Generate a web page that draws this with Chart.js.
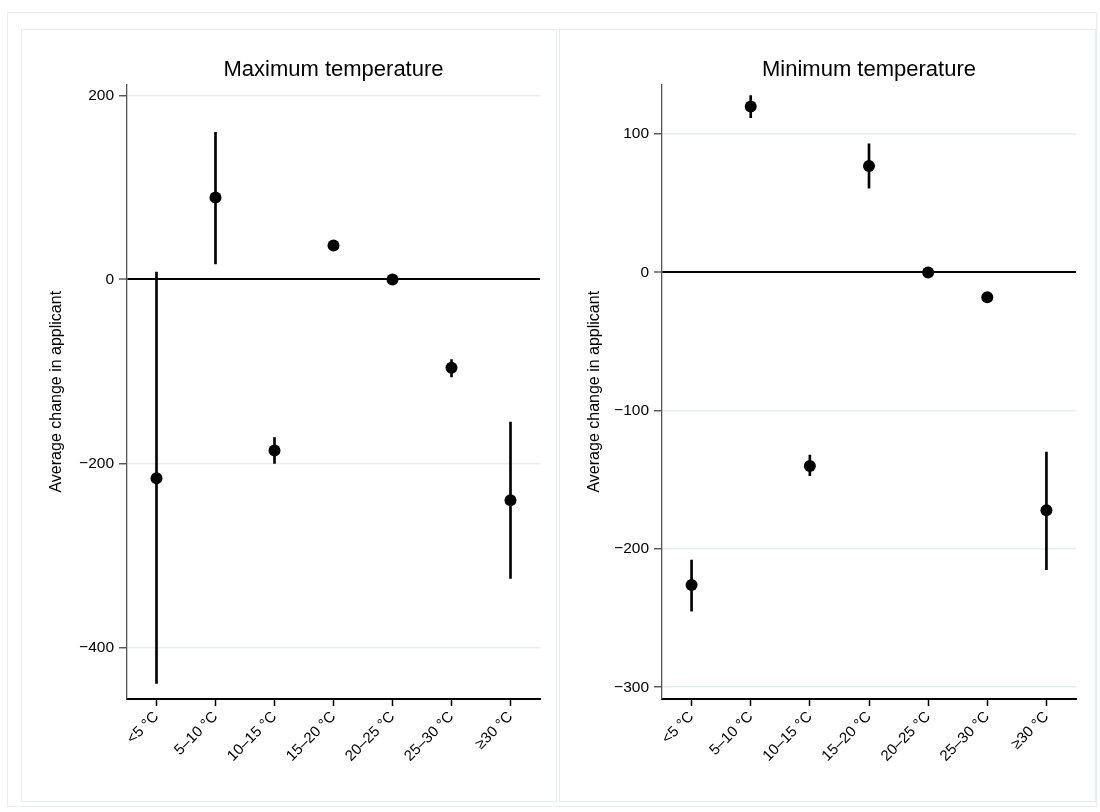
<!DOCTYPE html>
<html>
<head>
<meta charset="utf-8">
<script src="https://cdn.jsdelivr.net/npm/chart.js@4.4.1/dist/chart.umd.min.js"></script>
<style>
    body { margin: 0; background: #fff; width: 1100px; height: 812px; position: relative; overflow: hidden; }
    .frame { position: absolute; left: 8px; top: 13px; width: 1088px; height: 793px; outline: 1px solid #e7eef2; }
    .panel { position: absolute; top: 30px; height: 771px; outline: 1px solid #e4ecf0; background: #fff; }
    .panel canvas { position: absolute; left: 0; top: 0; }
</style>
</head>
<body>
<div class="frame"></div>
<div class="panel" style="left:22px; width:534px;"><canvas id="chartMax" width="534" height="771"></canvas></div>
<div class="panel" style="left:560px; width:535px;"><canvas id="chartMin" width="535" height="771"></canvas></div>

<script>
// categorie di temperatura
const categories = ['<5 °C', '5–10 °C', '10–15 °C', '15–20 °C', '20–25 °C', '25–30 °C', '≥30 °C'];

// Maximum temperature: stima e intervallo
const maxEstimate = [-216, 89, -186, 37, 0, -96, -240];
const maxLower    = [-439, 17, -200, 35, null, -106, -325];
const maxUpper    = [8, 160, -172, 39, null, -87, -155];
const maxTicks    = [200, 0, -200, -400];
const maxRange    = [-456, 212];

// Minimum temperature: stima e intervallo
const minEstimate = [-226, 120, -140, 77, 0, -18, -172];
const minLower    = [-245, 112, -147, 61, null, -20, -215];
const minUpper    = [-208, 128, -132, 93, null, -16, -130];
const minTicks    = [100, 0, -100, -200, -300];
const minRange    = [-308.5, 136];

Chart.defaults.font.family = "'Liberation Sans', Arial, Helvetica, sans-serif";
Chart.defaults.color = '#000';

function formatTick(v) {
    return v < 0 ? '\u2212' + Math.abs(v) : String(v);
}

function creaPannello(id, titolo, estimate, lower, upper, ticks, range, yWidth, rightPad) {
    const ctx = document.getElementById(id);
    return new Chart(ctx, {
        type: 'bar',
        data: {
            labels: categories,
            datasets: [
                {
                    type: 'line',
                    data: estimate,
                    showLine: false,
                    pointRadius: 6,
                    pointHoverRadius: 6,
                    pointBackgroundColor: '#000',
                    pointBorderWidth: 0,
                    order: 0
                },
                {
                    type: 'bar',
                    data: lower.map((l, i) => l === null ? null : [l, upper[i]]),
                    backgroundColor: '#000',
                    barThickness: 2,
                    order: 1
                }
            ]
        },
        options: {
            responsive: false,
            animation: false,
            layout: { padding: { left: 0, right: rightPad, top: 0, bottom: 0 } },
            plugins: {
                legend: { display: false },
                tooltip: { enabled: false },
                title: {
                    display: true,
                    text: titolo,
                    fullSize: false,
                    color: '#000',
                    font: { size: 22, weight: 'normal' },
                    padding: { top: 27, bottom: 1 }
                }
            },
            scales: {
                x: {
                    offset: true,
                    grid: {
                        display: true,
                        drawOnChartArea: false,
                        drawTicks: true,
                        offset: false,
                        tickLength: 7,
                        tickColor: '#000',
                        tickWidth: 1.5
                    },
                    border: { color: '#000', width: 2 },
                    ticks: {
                        autoSkip: false,
                        minRotation: 45,
                        maxRotation: 45,
                        padding: 2,
                        color: '#000',
                        font: { size: 15 }
                    },
                    afterFit: s => { s.height = 102; }
                },
                y: {
                    min: range[0],
                    max: range[1],
                    afterBuildTicks: s => { s.ticks = ticks.map(v => ({ value: v })); },
                    grid: {
                        color: c => c.tick && c.tick.value === 0 ? '#000' : '#e3eef1',
                        lineWidth: c => c.tick && c.tick.value === 0 ? 2 : 1.5,
                        tickColor: '#444',
                        tickLength: 8,
                        tickWidth: 1.3
                    },
                    border: { color: '#555', width: 1.3 },
                    ticks: {
                        padding: 5,
                        color: '#000',
                        font: { size: 15.5 },
                        callback: v => formatTick(v)
                    },
                    title: {
                        display: true,
                        text: 'Average change in applicant',
                        color: '#000',
                        font: { size: 16 },
                        padding: { top: 25, bottom: 0 }
                    },
                    afterFit: s => { s.width = yWidth; }
                }
            }
        }
    });
}

document.addEventListener('DOMContentLoaded', function() {
    creaPannello('chartMax', 'Maximum temperature', maxEstimate, maxLower, maxUpper, maxTicks, maxRange, 105, 16);
    creaPannello('chartMin', 'Minimum temperature', minEstimate, minLower, minUpper, minTicks, minRange, 102, 19);
});
</script>
</body>
</html>
